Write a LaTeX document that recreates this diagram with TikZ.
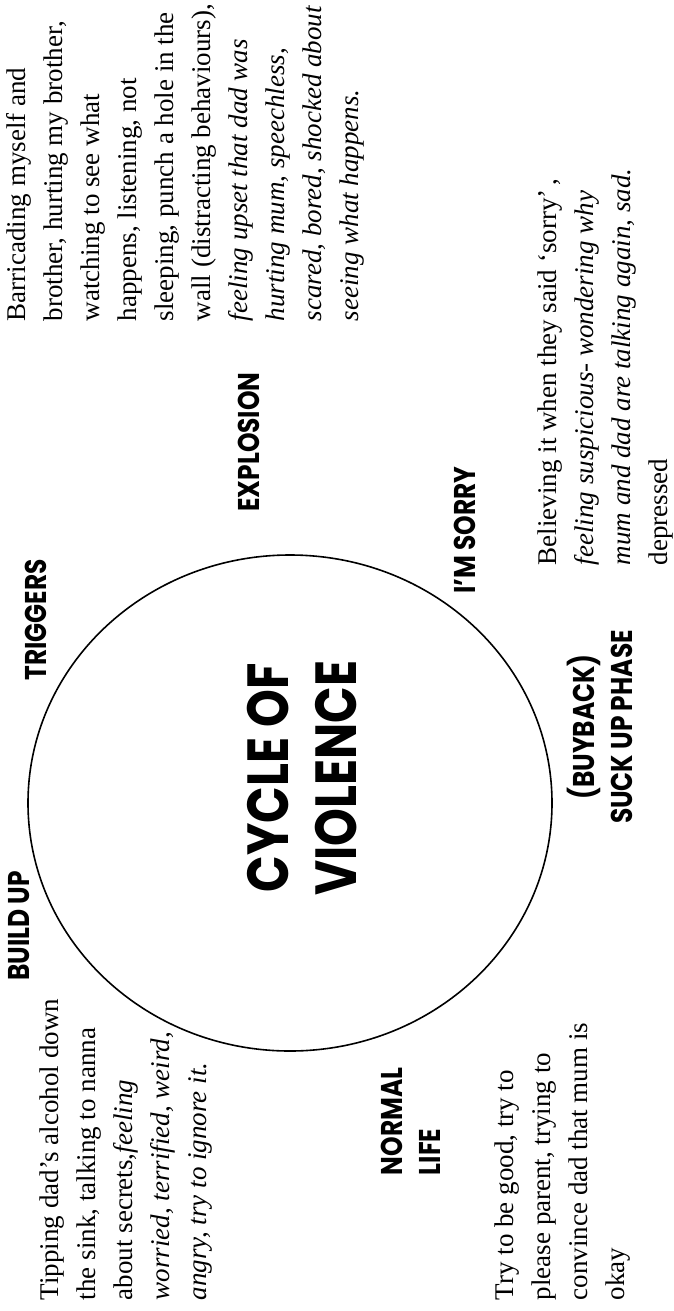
\documentclass[tikz,border=0pt]{standalone}
\usepackage{fontspec}
\setmainfont{Liberation Serif}
\newfontfamily\headfont{Poppins}[FakeStretch=0.83]
\usetikzlibrary{positioning}

\begin{document}
\begin{tikzpicture}[x=0.5pt,y=-0.5pt,thick,
    every node/.style={rotate=90,inner sep=0pt},
    phase/.style={font=\headfont\bfseries\fontsize{15}{19}\selectfont,align=center},
    story/.style={font=\fontsize{13.5}{18.5}\selectfont,align=left,anchor=north west},
    bigtitle/.style={font=\headfont\bfseries\fontsize{29}{34}\selectfont,align=center}]
    \useasboundingbox (0,0) rectangle (674,1311);

    \draw (290,803) ellipse [x radius=131pt, y radius=124pt];
    \node[bigtitle] (cycle) at (302,778) {CYCLE OF\\VIOLENCE};

    \node[phase] (triggers) at (36,620) {TRIGGERS};
    \node[phase] (explosion) at (249,442) {EXPLOSION};
    \node[phase] (sorry) at (465,530) {I’M SORRY};
    \node[phase] (buyback) at (600,727) {(BUYBACK)\\SUCK UP PHASE};
    \node[phase,align=left,anchor=north west] (normal) at (380,1176) {NORMAL\\LIFE};
    \node[phase] (buildup) at (19,926) {BUILD UP};

    \node[story] (explosiontxt) at (6,322) {Barricading myself and\\
        brother, hurting my brother,\\
        watching to see what\\
        happens, listening, not\\
        sleeping, punch a hole in the\\
        wall (distracting behaviours),\\
        \textit{feeling upset that dad was}\\
        \textit{hurting mum, speechless,}\\
        \textit{scared, bored, shocked about}\\
        \textit{seeing what happens.}};
    \node[story] (sorrytxt) at (537,566) {Believing it when they said ‘sorry’\,,\\
        \textit{feeling suspicious- wondering why}\\
        \textit{mum and dad are talking again, sad.}\\
        depressed};
    \node[story] (builduptxt) at (39,1301) {Tipping dad’s alcohol down\\
        the sink, talking to nanna\\
        about secrets,\textit{feeling}\\
        \textit{worried, terrified, weird,}\\
        \textit{angry, try to ignore it.}};
    \node[story] (normaltxt) at (494,1301) {Try to be good, try to\\
        please parent, trying to\\
        convince dad that mum is\\
        okay};
\end{tikzpicture}
\end{document}
